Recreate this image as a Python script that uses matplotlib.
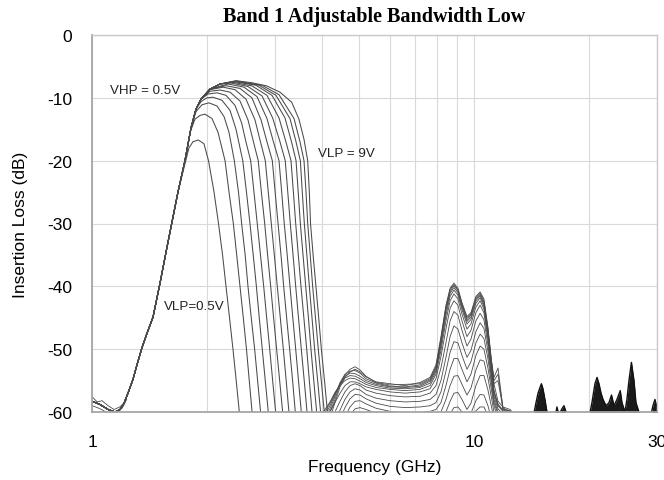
import matplotlib
matplotlib.use("Agg")
import matplotlib.pyplot as plt
from matplotlib.ticker import FixedLocator, NullFormatter

plt.rcParams['font.family'] = ['Liberation Sans', 'DejaVu Sans']
plt.rcParams['axes.unicode_minus'] = False

# ---------------- data ----------------
title = "Band 1 Adjustable Bandwidth Low"
x_label = "Frequency (GHz)"
y_label = "Insertion Loss (dB)"
x_ticks = [1, 10, 30]
x_tick_labels = ["1", "10", "30"]
y_ticks = [0, -10, -20, -30, -40, -50, -60]
x_minor_grid = [2, 3, 4, 5, 6, 7, 8, 9, 20]

# shared high-pass (rising) edge
rise_f = [1.00, 1.047, 1.10, 1.147, 1.182, 1.211, 1.240, 1.278, 1.309, 1.347, 1.390,
          1.442, 1.504, 1.566, 1.614, 1.676, 1.748, 1.813, 1.868, 1.926, 2.033, 2.16]
rise_db = [-58.3, -58.8, -59.6, -60.0, -59.6, -58.6, -57.0, -54.8, -52.5, -49.9, -47.5,
           -44.9, -39.5, -34.0, -30.0, -25.0, -20.0, -14.8, -11.8, -10.2, -8.6, -7.8]
# number of rising-edge points each curve follows before its own top
rise_len = [16, 17, 18, 19, 20, 20, 20, 21, 21, 22, 22, 22, 22, 22, 22]

# extra wiggly traces near 1 GHz
low_f = [[1.00, 1.03, 1.06, 1.10, 1.14, 1.18, 1.21],
         [1.00, 1.04, 1.08, 1.12, 1.16, 1.20, 1.23]]
low_db = [[-57.6, -58.4, -58.2, -59.0, -59.6, -59.2, -58.6],
          [-59.0, -59.4, -59.9, -60.5, -60.2, -59.3, -58.0]]

# own top + low-pass (falling) part of each curve, VLP = 0.5 V ... 9 V
top_f = [
    [1.79, 1.834, 1.894, 1.960, 2.015, 2.083, 2.14, 2.193, 2.239, 2.287, 2.335, 2.381, 2.426, 2.46],
    [1.803, 1.857, 1.914, 1.972, 2.058, 2.134, 2.226, 2.28, 2.34, 2.388, 2.436, 2.485, 2.533, 2.576, 2.62, 2.65],
    [1.868, 1.937, 2.021, 2.121, 2.213, 2.28, 2.354, 2.414, 2.46, 2.513, 2.556, 2.607, 2.661, 2.709, 2.758, 2.79],
    [1.926, 1.995, 2.07, 2.186, 2.294, 2.378, 2.477, 2.533, 2.587, 2.638, 2.689, 2.736, 2.786, 2.837, 2.889, 2.919],
    [2.008, 2.121, 2.239, 2.364, 2.46, 2.525, 2.598, 2.65, 2.703, 2.756, 2.81, 2.861, 2.914, 2.966, 3.02, 3.05],
    [2.033, 2.16, 2.294, 2.436, 2.556, 2.642, 2.719, 2.771, 2.827, 2.877, 2.931, 2.983, 3.038, 3.094, 3.15, 3.186],
    [2.033, 2.2, 2.364, 2.525, 2.666, 2.756, 2.837, 2.889, 2.942, 2.996, 3.05, 3.106, 3.163, 3.218, 3.272, 3.31],
    [2.239, 2.436, 2.618, 2.765, 2.866, 2.96, 3.011, 3.064, 3.119, 3.17, 3.227, 3.286, 3.345, 3.40, 3.44],
    [2.268, 2.495, 2.699, 2.866, 2.98, 3.082, 3.132, 3.181, 3.238, 3.293, 3.349, 3.408, 3.466, 3.525, 3.56],
    [2.308, 2.556, 2.782, 2.966, 3.10, 3.20, 3.249, 3.299, 3.354, 3.408, 3.466, 3.525, 3.588, 3.649, 3.69],
    [2.335, 2.618, 2.866, 3.082, 3.213, 3.313, 3.361, 3.408, 3.462, 3.518, 3.58, 3.642, 3.70, 3.76, 3.80],
    [2.354, 2.682, 2.954, 3.195, 3.323, 3.415, 3.46, 3.505, 3.562, 3.62, 3.68, 3.737, 3.80, 3.868, 3.91],
    [2.378, 2.732, 3.026, 3.293, 3.415, 3.505, 3.546, 3.59, 3.645, 3.70, 3.76, 3.82, 3.89, 3.96, 4.00],
    [2.382, 2.782, 3.082, 3.374, 3.498, 3.583, 3.627, 3.664, 3.72, 3.775, 3.84, 3.905, 3.976, 4.049, 4.09],
    [2.378, 2.618, 2.861, 3.10, 3.327, 3.476, 3.583, 3.664, 3.70, 3.727, 3.785, 3.85, 3.915, 3.978, 4.054, 4.128, 4.17],
]
top_db = [
    [-18.0, -17.0, -16.7, -17.3, -20, -25, -30, -35, -40, -45, -50, -55, -60, -63],
    [-15.5, -13.4, -12.8, -12.6, -13.3, -15.5, -20, -25, -30, -35, -40, -45, -50, -55, -60, -63],
    [-12.2, -11.1, -10.8, -11.3, -13, -15.5, -20, -25, -30, -35, -40, -45, -50, -55, -60, -63],
    [-10.6, -10.0, -9.9, -10.4, -12, -15, -20, -25, -30, -35, -40, -45, -50, -55, -60, -63],
    [-9.4, -9.2, -9.6, -11.2, -14, -17, -20, -25, -30, -35, -40, -45, -50, -55, -60, -63],
    [-8.95, -8.76, -9.1, -10.5, -13.5, -17, -20, -25, -30, -35, -40, -45, -50, -55, -60, -63],
    [-8.7, -8.3, -8.7, -10.2, -13.5, -17, -20, -25, -30, -35, -40, -45, -50, -55, -60, -63],
    [-8.07, -8.5, -10.0, -13.5, -17, -20, -25, -30, -35, -40, -45, -50, -55, -60, -63],
    [-7.8, -8.3, -9.8, -13.3, -17, -20, -25, -30, -35, -40, -45, -50, -55, -60, -63],
    [-7.64, -8.2, -9.7, -13.2, -17, -20, -25, -30, -35, -40, -45, -50, -55, -60, -63],
    [-7.53, -8.1, -9.6, -13.2, -17, -20, -25, -30, -35, -40, -45, -50, -55, -60, -63],
    [-7.43, -8.0, -9.6, -13.2, -17, -20, -25, -30, -35, -40, -45, -50, -55, -60, -63],
    [-7.38, -8.0, -9.6, -13.3, -17, -20, -25, -30, -35, -40, -45, -50, -55, -60, -63],
    [-7.33, -8.0, -9.5, -13.3, -17, -20, -25, -30, -35, -40, -45, -50, -55, -60, -63],
    [-7.27, -7.6, -8.1, -9.1, -10.7, -13.4, -16.6, -20, -25, -30, -35, -40, -45, -50, -55, -60, -63],
]

# spurious response 4-13 GHz, common frequency grid
spur_f = [3.898, 4.066, 4.191, 4.318, 4.452, 4.586, 4.729, 4.872, 5.023, 5.206,
          5.529, 6.019, 6.589, 7.213, 7.661, 7.938, 8.181, 8.431, 8.644, 8.847,
          9.063, 9.286, 9.570, 9.802, 10.10, 10.36, 10.60, 10.86, 11.06, 11.26,
          11.54, 11.89, 12.41, 12.78, 13.19]
spur_db = [
    [-62, -62, -62, -62, -62, -62, -62, -62, -62, -62, -62, -62, -62, -62, -62, -62, -62, -62, -61.5, -60.6, -60.4, -61, -61.8, -61.2, -59.8, -59.2, -59.2, -60.5, -61.5, -62, -62, -62, -62, -62, -62],
    [-62, -62, -62, -62, -62, -62, -62, -62, -62, -62, -62, -62, -62, -62, -62, -62, -62, -61.5, -60.3, -59.3, -59.2, -60, -61, -60.2, -58.2, -57.2, -57.3, -59, -60.8, -62, -62, -62, -62, -62, -62],
    [-62, -62, -62, -62, -62, -62, -62, -61, -60.5, -60.6, -61, -61.5, -61.8, -61.8, -61.6, -61.3, -61, -60, -58.3, -57, -56.9, -58, -59.6, -58.6, -55.8, -54.2, -54.2, -56.5, -58.8, -61, -62, -62, -62, -62, -62],
    [-62, -62, -62, -62, -62, -62, -60.5, -59.5, -59.3, -59.6, -60.2, -60.8, -61, -61, -60.8, -60.5, -60, -58, -55.8, -54.3, -54.2, -55.6, -57.3, -56.2, -53.3, -51.7, -51.9, -54.6, -57.3, -60, -61.5, -62, -62, -62, -62],
    [-62, -62, -62, -62, -62, -60.8, -59.2, -58.3, -58.2, -58.7, -59.4, -59.9, -60.2, -60.1, -59.9, -59.6, -58.5, -55.8, -53.2, -51.5, -51.5, -53.2, -55.2, -54, -51, -49.5, -50, -53, -56, -59, -61, -62, -62, -62, -62],
    [-62, -62, -62, -62, -61.2, -59.3, -57.9, -57.2, -57.3, -57.9, -58.6, -59.1, -59.3, -59.2, -59, -58.5, -56.8, -53.5, -50.5, -48.8, -49, -51, -53.2, -52, -49, -47.6, -48.3, -51.5, -55, -58.5, -60.3, -61.5, -62, -62, -62],
    [-62, -62, -62, -61.5, -59.7, -58, -56.8, -56.3, -56.5, -57.2, -57.8, -58.2, -58.4, -58.3, -58, -57.2, -55, -51.3, -48, -46.3, -46.8, -49, -51.3, -50.2, -47.2, -45.8, -46.7, -50.3, -54.2, -58, -60, -61, -62, -62, -62],
    [-62, -62, -61.5, -60, -58.3, -56.8, -55.8, -55.5, -55.8, -56.5, -57, -57.4, -57.6, -57.5, -57, -55.8, -53, -49, -45.5, -44, -44.6, -47, -49.5, -48.4, -45.5, -44.3, -45.3, -49.3, -53.5, -57.5, -59.5, -60.3, -61, -62, -62],
    [-62, -61, -60, -58.5, -57, -55.8, -55.2, -55.2, -55.5, -56, -56.4, -56.8, -57, -56.8, -56.3, -54.7, -51.2, -46.8, -43.5, -42.3, -43, -45.5, -48, -47, -44.2, -43, -44.2, -48.5, -52.8, -57, -59, -59.9, -60.5, -61.2, -62],
    [-61, -59.6, -58.4, -56.9, -55.8, -55, -54.6, -54.7, -55.1, -55.6, -56.1, -56.4, -56.6, -56.4, -55.8, -54, -50.2, -45.5, -42.3, -41.2, -42, -44.4, -46.8, -46, -43.3, -42.3, -43.6, -48, -52.4, -56.8, -58.7, -59.8, -60.1, -61, -62],
    [-61.5, -60, -58.6, -57, -55.6, -54.6, -54.2, -54.3, -54.7, -55.3, -55.8, -56.2, -56.3, -56.1, -55.4, -53.6, -49.5, -44.6, -41.6, -40.6, -41.4, -43.7, -46, -45.3, -42.7, -41.8, -43.2, -47.6, -52, -56.5, -59, -59.6, -60.3, -61, -62],
    [-62, -60.5, -59, -57.2, -55.5, -54.3, -53.8, -53.9, -54.3, -55, -55.6, -56, -56.1, -55.9, -55.1, -53.3, -49, -44, -41.1, -40.2, -41, -43.3, -45.6, -44.9, -42.3, -41.5, -42.9, -47.3, -51.8, -55.5, -55, -59.5, -59.9, -61, -62],
    [-62, -61, -59.5, -57.5, -55.3, -54, -53.5, -53.4, -53.8, -54.7, -55.4, -55.9, -56, -55.7, -54.9, -53, -48.6, -43.6, -40.8, -39.9, -40.7, -43, -45.3, -44.6, -42, -41.3, -42.6, -47, -51.5, -55, -54, -59.3, -60.2, -61, -62],
    [-62, -62, -60, -58, -55.6, -54.1, -53.2, -52.8, -53.3, -54.3, -55.3, -55.7, -55.6, -55.5, -54.7, -52.8, -48.3, -43.3, -40.5, -39.7, -40.5, -42.8, -45, -44.4, -41.8, -41.1, -42.3, -46.8, -51.3, -54.5, -53, -59.5, -59.8, -60.8, -62],
    [-62, -62, -61, -58.5, -56, -54.5, -53.6, -53.2, -53.6, -54.4, -55.2, -55.5, -55.8, -55.3, -54.5, -52.5, -48, -43, -40.3, -39.5, -40.3, -42.6, -44.8, -44.2, -41.6, -40.9, -42, -46.5, -51, -55.5, -58.3, -59.2, -59.6, -60.5, -62],
]

# high-frequency noise bundles (upper envelopes)
hf_f = [[14.25, 14.51, 14.69, 14.88, 14.99, 15.13, 15.31, 15.50, 15.69],
        [16.27, 16.46, 16.66, 16.96, 17.17, 17.39, 17.59],
        [19.97, 20.33, 20.70, 20.96, 21.21, 21.47, 21.73, 22.13, 22.53, 22.87, 23.22,
         23.64, 24.11, 24.36, 24.80, 25.10, 25.41, 25.79, 26.19, 26.50, 26.99, 27.32],
        [28.89, 29.36, 29.72, 29.99]]
hf_db = [[-61, -58.5, -57, -56, -55.5, -56.3, -58, -60, -61],
         [-61, -59.2, -60.5, -59.5, -59, -60, -61],
         [-61, -58.5, -55.5, -54.5, -55.5, -57, -58, -59, -58.5, -57.3, -59,
          -58, -56.6, -58.5, -60, -58, -55, -52.1, -55, -58.5, -60, -61],
         [-61, -59, -58, -59]]

annotations = [("VHP = 0.5V", 1.11, -8.8), ("VLP = 9V", 3.905, -18.8), ("VLP=0.5V", 1.541, -43.1)]

# ---------------- figure ----------------
fig = plt.figure(figsize=(6.64, 4.81), dpi=100)
ax = fig.add_axes([92.3 / 664, 1 - 413 / 481, (656.5 - 92.3) / 664, (413 - 36) / 481])

line_col = '#4a4a4a'
for i in range(len(top_f)):
    n = rise_len[i]
    fx = rise_f[:n] + top_f[i]
    dy = rise_db[:n] + top_db[i]
    ax.plot(fx, dy, color=line_col, lw=0.75, solid_joinstyle='round')
    ax.plot(spur_f, spur_db[i], color=line_col, lw=0.6)

for fx, dy in zip(low_f, low_db):
    ax.plot(fx, dy, color=line_col, lw=0.6)

for fx, dy in zip(hf_f, hf_db):
    ax.fill_between(fx, dy, -61, color='#1a1a1a', lw=0)
    ax.plot(fx, dy, color='#111111', lw=1.0)

ax.set_xscale('log')
ax.set_xlim(1, 30)
ax.set_ylim(-60, 0)
ax.xaxis.set_major_locator(FixedLocator(x_ticks))
ax.set_xticklabels(x_tick_labels)
ax.xaxis.set_minor_locator(FixedLocator(x_minor_grid))
ax.xaxis.set_minor_formatter(NullFormatter())
ax.set_yticks(y_ticks)
ax.grid(True, which='both', axis='x', color='#d9d9d9', lw=0.8)
ax.grid(True, which='major', axis='y', color='#d9d9d9', lw=0.8)
ax.set_axisbelow(True)
ax.tick_params(which='both', length=0, labelsize=12.5, colors='#000000')
ax.tick_params(axis='y', pad=14.5)
ax.tick_params(axis='x', pad=15.5)
for s in ['left', 'bottom']:
    ax.spines[s].set_color('#a6a6a6')
    ax.spines[s].set_linewidth(1.3)
for s in ['top', 'right']:
    ax.spines[s].set_color('#c8c8c8')
    ax.spines[s].set_linewidth(1.0)

for txt, fx, dy in annotations:
    ax.text(fx, dy, txt, fontsize=9.6, ha='left', va='center', color='#222222')

fig.text(374.4 / 664, 1 - 17 / 481, title, ha='center', va='center',
         fontsize=14.5, fontweight='bold', family=['Liberation Serif', 'DejaVu Serif'])
fig.text(374.4 / 664, 1 - 468 / 481, x_label, ha='center', va='center', fontsize=12.5)
fig.text(20.7 / 664, 1 - 225 / 481, y_label, ha='center', va='center', rotation=90, fontsize=12.5)

fig.savefig('out.png', dpi=100)
